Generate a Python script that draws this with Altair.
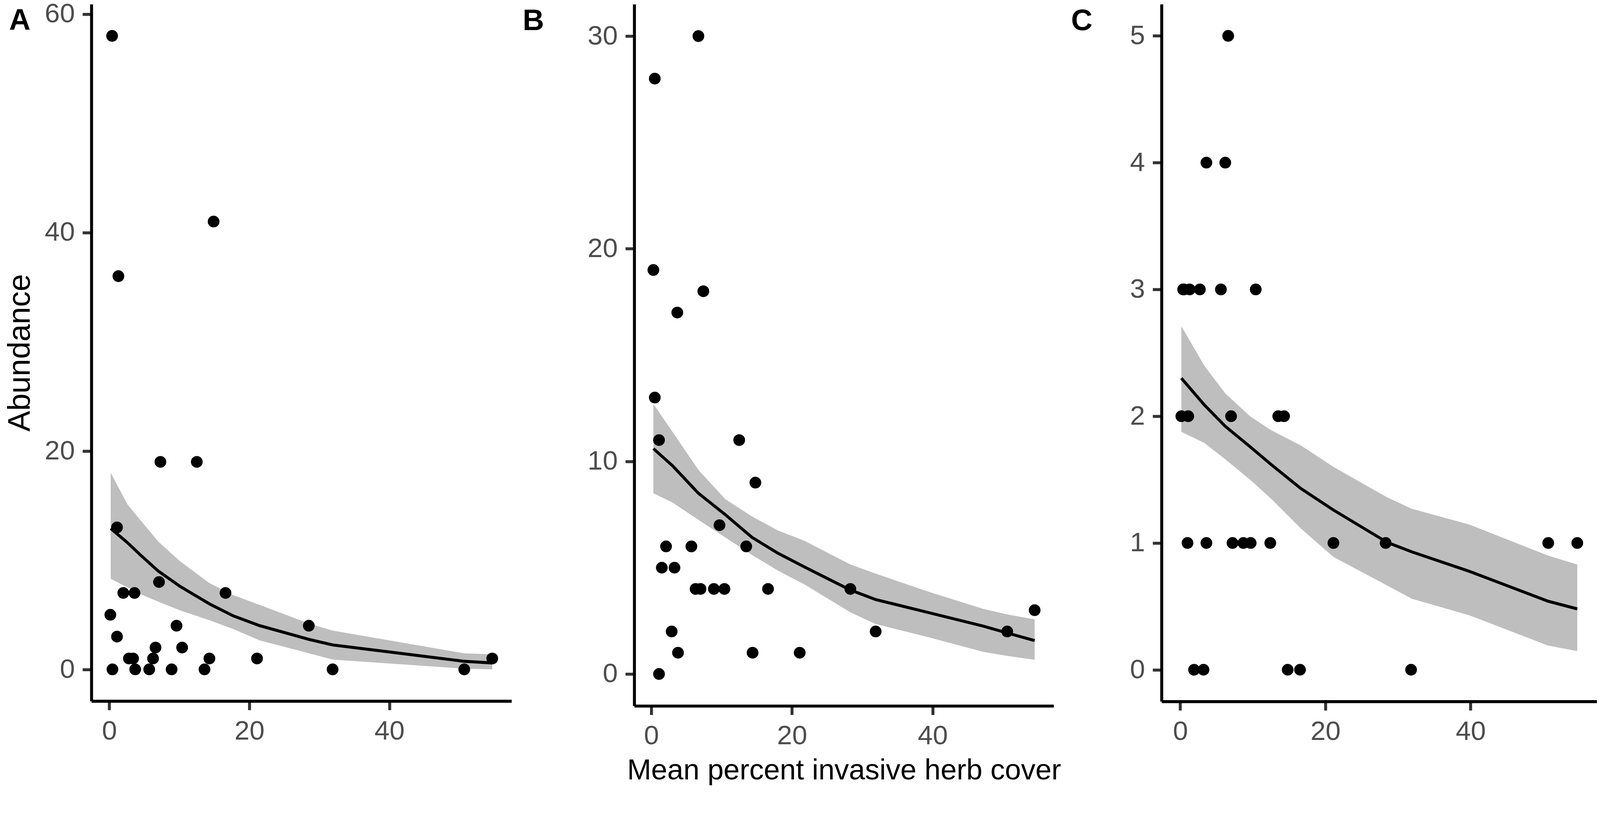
import altair as alt
import pandas as pd

FONT = "Liberation Sans"

# ---------------- Panel A ----------------
a_x = [0.15, 0.4, 0.45, 1.1, 1.1, 1.3, 2.0, 2.8, 3.4, 3.6, 3.7, 5.7, 6.25, 6.6, 7.1,
       7.3, 8.9, 9.6, 10.4, 12.5, 13.6, 14.3, 14.9, 16.6, 21.1, 28.5, 31.9, 50.7, 54.7]
a_y = [5, 58, 0, 13, 3, 36, 7, 1, 1, 7, 0, 0, 1, 2, 8,
       19, 0, 4, 2, 19, 0, 1, 41, 7, 1, 4, 0, 0, 1]
a_fx = [0.2, 2.6, 4.4, 7.0, 10.1, 14.3, 17.7, 21.5, 28.5, 31.9, 50.7, 54.7]
a_fit = [12.9, 11.6, 10.5, 9.0, 7.6, 6.0, 4.9, 4.0, 2.75, 2.24, 0.74, 0.59]
a_hi = [18.0, 15.1, 13.7, 11.7, 9.9, 7.9, 6.8, 5.9, 4.2, 3.55, 1.47, 1.38]
a_lo = [8.3, 7.5, 6.9, 6.2, 5.4, 4.5, 3.7, 2.65, 1.48, 0.9, 0.07, 0.0]

# ---------------- Panel B ----------------
b_x = [0.3, 0.5, 0.5, 1.1, 1.1, 1.5, 2.1, 2.9, 3.3, 3.7, 3.8, 5.7, 6.3, 6.7, 7.0,
       7.4, 8.9, 9.7, 10.4, 12.5, 13.5, 14.4, 14.8, 16.6, 21.1, 28.3, 31.9, 50.6, 54.5]
b_y = [19, 28, 13, 11, 0, 5, 6, 2, 5, 17, 1, 6, 4, 30, 4,
       18, 4, 7, 4, 11, 6, 1, 9, 4, 1, 4, 2, 2, 3]
b_fx = [0.3, 3.0, 6.7, 10.5, 14.3, 18.0, 21.8, 28.3, 31.9, 39.4, 47.2, 50.6, 54.5]
b_fit = [10.6, 9.8, 8.5, 7.5, 6.43, 5.68, 5.03, 3.95, 3.5, 2.89, 2.25, 1.93, 1.57]
b_hi = [12.7, 11.4, 9.6, 8.23, 7.41, 6.75, 6.26, 5.15, 4.72, 3.87, 3.06, 2.8, 2.57]
b_lo = [8.5, 8.07, 7.25, 6.43, 5.6, 4.86, 4.21, 2.9, 2.35, 1.73, 1.04, 0.85, 0.67]

# ---------------- Panel C ----------------
c_x = [6.6, 3.6, 6.2, 0.4, 0.5, 1.3, 2.7, 5.6, 10.4, 0.15, 1.1, 7.0, 13.5, 14.3,
       1.0, 3.6, 7.2, 8.7, 9.7, 12.4, 21.1, 28.3, 50.7, 54.7, 1.9, 3.2, 14.8, 16.5, 31.8]
c_y = [5, 4, 4, 3, 3, 3, 3, 3, 3, 2, 2, 2, 2, 2,
       1, 1, 1, 1, 1, 1, 1, 1, 1, 1, 0, 0, 0, 0, 0]
c_fx = [0.15, 3.3, 6.2, 9.6, 12.5, 16.6, 21.1, 28.5, 31.9, 39.8, 50.7, 54.7]
c_fit = [2.30, 2.09, 1.92, 1.76, 1.62, 1.43, 1.26, 1.005, 0.93, 0.777, 0.54, 0.48]
c_hi = [2.71, 2.40, 2.18, 2.00, 1.89, 1.77, 1.60, 1.36, 1.27, 1.146, 0.90, 0.83]
c_lo = [1.876, 1.79, 1.66, 1.50, 1.35, 1.115, 0.89, 0.665, 0.56, 0.43, 0.19, 0.147]

x_ticks = [0, 20, 40]


def make_panel(px, py, fx, fit, lo, hi, xdom, ydom, yvals, w, h,
               letter, ldx, ldy, ytitle=None, xtitle=None):
    pts = pd.DataFrame({"x": px, "y": py})
    band = pd.DataFrame({"x": fx, "fit": fit, "lo": lo, "hi": hi})
    lab = pd.DataFrame({"t": [letter]})

    xscale = alt.Scale(domain=xdom, nice=False, zero=False)
    yscale = alt.Scale(domain=ydom, nice=False, zero=False)

    xaxis = alt.Axis(values=x_ticks, minExtent=118, maxExtent=118,
                     titleFontSize=78, titlePadding=18)
    yaxis = alt.Axis(values=yvals, minExtent=130, maxExtent=130,
                     titleFontSize=84, titlePadding=19)

    area = alt.Chart(band).mark_area(color="#BEBEBE", opacity=1).encode(
        x=alt.X("x:Q", scale=xscale, axis=xaxis, title=xtitle),
        y=alt.Y("lo:Q", scale=yscale, axis=yaxis, title=ytitle),
        y2="hi:Q",
    )
    line = alt.Chart(band).mark_line(color="black", strokeWidth=8).encode(
        x=alt.X("x:Q", scale=xscale, axis=xaxis, title=xtitle),
        y=alt.Y("fit:Q", scale=yscale, axis=yaxis, title=ytitle),
    )
    points = alt.Chart(pts).mark_circle(color="black", opacity=1, size=1000).encode(
        x=alt.X("x:Q", scale=xscale, axis=xaxis, title=xtitle),
        y=alt.Y("y:Q", scale=yscale, axis=yaxis, title=ytitle),
    )
    letter_mark = alt.Chart(lab).mark_text(
        font=FONT, fontSize=80, fontWeight="bold", color="black",
        align="left", baseline="alphabetic"
    ).encode(x=alt.value(ldx), y=alt.value(ldy), text="t:N")

    return alt.layer(area, line, points, letter_mark).properties(width=w, height=h)


pA = make_panel(a_x, a_y, a_fx, a_fit, a_lo, a_hi, [-2.56, 57.45], [-2.9, 60.9],
                [0, 20, 40, 60], 1133, 1879, "A", -222, 69, ytitle="Abundance")
pB = make_panel(b_x, b_y, b_fx, b_fit, b_lo, b_hi, [-2.42, 57.2], [-1.5, 31.5],
                [0, 10, 20, 30], 1131, 1892, "B", -301, 70,
                xtitle="Mean percent invasive herb cover")
pC = make_panel(c_x, c_y, c_fx, c_fit, c_lo, c_hi, [-2.58, 57.4], [-0.25, 5.25],
                [0, 1, 2, 3, 4, 5], 1174, 1880, "C", -244, 70)

inner = alt.hconcat(pB, pC, spacing=291, bounds="flush")
chart = alt.hconcat(pA, inner, spacing=331, bounds="flush").properties(
    padding={"left": 4, "top": -62, "right": 0, "bottom": 0},
    background="white",
).configure_view(strokeWidth=0).configure_axis(
    grid=False,
    domainColor="black", domainWidth=8,
    tickColor="#333333", tickWidth=8, tickSize=24,
    labelFont=FONT, labelFontSize=73, labelColor="#4D4D4D", labelPadding=21,
    labelFlush=False,
    titleFont=FONT, titleColor="black", titleFontWeight="normal",
)

chart.save("out.html", embed_options={"renderer": "svg", "actions": False})
